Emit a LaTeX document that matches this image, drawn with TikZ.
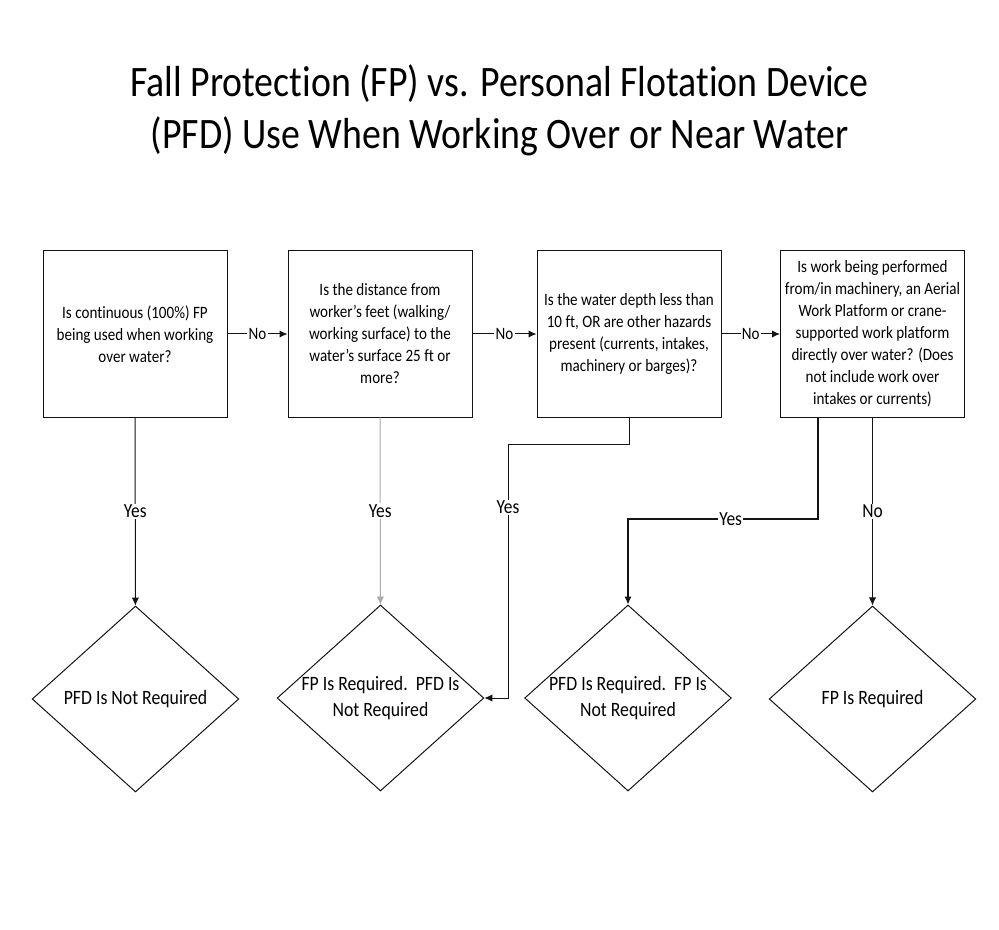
\documentclass[tikz,border=0pt]{standalone}
\usepackage{fontspec}
\setmainfont{Carlito}[FakeStretch=0.87, Ligatures=NoCommon]
\usepackage{tikz}
\usetikzlibrary{shapes,arrows.meta,positioning,calc}
\definecolor{linecolor}{RGB}{20,20,20}
\definecolor{faintcolor}{RGB}{170,170,170}

\begin{document}
\begin{tikzpicture}[
    x=0.75pt, y=-0.75pt,
    box/.style={rectangle, draw=linecolor, line width=0.75pt, minimum width=138pt, minimum height=124.5pt, inner sep=0pt, align=center, font=\fontsize{13}{16.5}\selectfont},
    decision/.style={diamond, aspect=1.1, draw=linecolor, line width=0.75pt, minimum width=155pt, minimum height=139.5pt, inner sep=-2pt, align=center, font=\fontsize{15.3}{19.5}\selectfont},
    lbl/.style={fill=white, inner sep=1pt, font=\fontsize{15}{18}\selectfont},
    sidelbl/.style={fill=white, inner sep=1pt, font=\fontsize{13}{16.5}\selectfont},
    arrow/.style={-{Latex[length=6pt,width=5.5pt]}, line width=0.75pt, draw=linecolor}
]
\useasboundingbox (0,0) rectangle (999,930);

\node[align=center, font=\fontsize{32.6}{39}\selectfont] (title) at (499.5,110) {Fall Protection (FP) vs. Personal Flotation Device\\(PFD) Use When Working Over or Near Water};

% questions
\node[box] (q1) at (135,334) {Is continuous (100\%) FP\\being used when working\\over water?};
\node[box] (q2) at (380,334) {Is the distance from\\worker's feet (walking/\\working surface) to the\\water's surface 25 ft or\\more?};
\node[box] (q3) at (629,334) {Is the water depth less than\\10 ft, OR are other hazards\\present (currents, intakes,\\machinery or barges)?};
\node[box] (q4) at (872.5,334) {Is work being performed\\from/in machinery, an Aerial\\Work Platform or crane-\\supported work platform\\directly over water? (Does\\not include work over\\intakes or currents)};

% outcomes
\node[decision] (d1) at (135.5,699) {PFD Is Not Required};
\node[decision] (d2) at (380.5,698) {FP Is Required.\ ~PFD Is\\Not Required};
\node[decision] (d3) at (628,698) {PFD Is Required.\ ~FP Is\\Not Required};
\node[decision] (d4) at (872.5,699) {FP Is Required};

\coordinate (q3turn) at (508,444);
\coordinate (q4turn) at (818,519);

\draw[arrow] (q1) -- node[sidelbl]{No} (q2);
\draw[arrow] (q2) -- node[sidelbl]{No} (q3);
\draw[arrow] (q3) -- node[sidelbl]{No} (q4);

\draw[arrow] (q1) -- node[lbl]{Yes} (d1);
\draw[arrow, draw=faintcolor] (q2) -- node[lbl]{Yes} (d2);
\draw[arrow] (q3.south) |- (q3turn) -- node[lbl, pos=0.25]{Yes} (q3turn |- d2.east) -- (d2.east);
\draw[arrow, line width=1pt] (q4turn |- q4.south) -- (q4turn) -- node[lbl, pos=0.46]{Yes} (q4turn -| d3.north) -- (d3.north);
\draw[arrow] (q4) -- node[lbl]{No} (d4);

\end{tikzpicture}
\end{document}
